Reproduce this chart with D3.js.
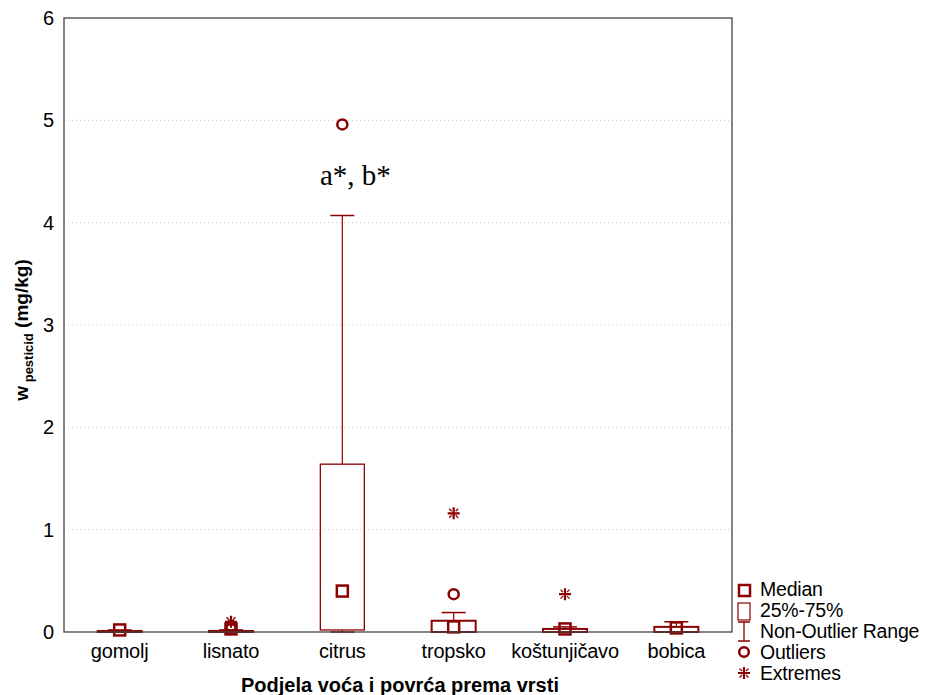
<!DOCTYPE html>
<html><head><meta charset="utf-8">
<script src="https://cdn.jsdelivr.net/npm/d3@7"></script>
<style>body{margin:0;background:#fff}svg{display:block}</style>
</head><body>
<script>
const categories = ["gomolj","lisnato","citrus","tropsko","koštunjičavo","bobica"];
const medians    = [0.02, 0.03, 0.40, 0.05, 0.03, 0.04];
const q1         = [0.00, 0.00, 0.02, 0.00, 0.00, 0.00];
const q3         = [0.01, 0.01, 1.64, 0.11, 0.03, 0.05];
const whiskMin   = [0.00, 0.00, 0.00, 0.00, 0.00, 0.00];
const whiskMax   = [0.02, 0.02, 4.07, 0.19, 0.05, 0.10];
const outliers   = [[], [0.03, 0.06], [4.96], [0.37], [], []];
const extremes   = [[], [0.10], [], [1.16], [0.37], []];
const yTicks     = [0,1,2,3,4,5,6];
const legendItems = ["Median","25%-75%","Non-Outlier Range","Outliers","Extremes"];

const W=926,H=695, col="#8b0000", SANS="'Liberation Sans',Arial,sans-serif";
const m={l:64,r:194,t:18,b:63};
const svg=d3.select("body").append("svg").attr("width",W).attr("height",H).style("font-family",SANS);
const x=d3.scaleBand().domain(categories).range([m.l,W-m.r]);
const y=d3.scaleLinear().domain([0,6]).range([H-m.b,m.t]);

// grid
svg.append("g").selectAll("line").data(yTicks.filter(d=>d>0&&d<6)).join("line")
 .attr("x1",m.l).attr("x2",W-m.r).attr("y1",d=>y(d)).attr("y2",d=>y(d))
 .attr("stroke","#c8c8c8").attr("stroke-dasharray","1,3");

// axes
const ya=svg.append("g").attr("transform",`translate(${m.l},0)`)
 .call(d3.axisLeft(y).tickValues(yTicks).tickFormat(d3.format("d")).tickSize(0).tickPadding(10));
ya.select(".domain").remove();
ya.selectAll("text").style("font-size","20px").style("font-family",SANS).attr("fill","#000");
const xa=svg.append("g").attr("transform",`translate(0,${H-m.b})`)
 .call(d3.axisBottom(x).tickSize(0).tickPadding(0));
xa.select(".domain").remove();
xa.selectAll("text").attr("dy",null).attr("y",26).style("font-size","20px").style("letter-spacing","-0.2px").style("font-family",SANS).attr("fill","#000");

// boxes
const bw=44, cw=24, ms=11;
const g=svg.append("g");
categories.forEach((c,i)=>{
  const cx=x(c)+x.bandwidth()/2;
  g.append("line").attr("x1",cx).attr("x2",cx).attr("y1",y(q3[i])).attr("y2",y(whiskMax[i])).attr("stroke",col).attr("stroke-width",1.2);
  g.append("line").attr("x1",cx-cw/2).attr("x2",cx+cw/2).attr("y1",y(whiskMax[i])).attr("y2",y(whiskMax[i])).attr("stroke",col).attr("stroke-width",1.5);
  g.append("line").attr("x1",cx).attr("x2",cx).attr("y1",y(q1[i])).attr("y2",y(whiskMin[i])).attr("stroke",col).attr("stroke-width",1.2);
  g.append("line").attr("x1",cx-cw/2).attr("x2",cx+cw/2).attr("y1",y(whiskMin[i])).attr("y2",y(whiskMin[i])).attr("stroke",col).attr("stroke-width",1.5);
  g.append("rect").attr("x",cx-bw/2).attr("width",bw).attr("y",y(q3[i])).attr("height",Math.max(1,y(q1[i])-y(q3[i])))
   .attr("fill","none").attr("stroke",col).attr("stroke-width",i==2?1.3:2);
  g.append("rect").attr("x",cx-ms/2).attr("y",y(medians[i])-ms/2).attr("width",ms).attr("height",ms)
   .attr("fill","none").attr("stroke",col).attr("stroke-width",2.5);
  outliers[i].forEach(v=>g.append("circle").attr("cx",cx).attr("cy",y(v)).attr("r",5).attr("fill","none").attr("stroke",col).attr("stroke-width",2.5));
  extremes[i].forEach(v=>drawStar(g,cx,y(v)));
});
function drawStar(sel,cx,cy){
  const s=6;
  sel.append("path").attr("d",`M${cx-s},${cy}H${cx+s}M${cx},${cy-s}V${cy+s}`).attr("stroke",col).attr("stroke-width",2.2).attr("fill","none");
  const d=4.5,e=2;
  sel.append("path").attr("d",`M${cx-d},${cy-d}L${cx-e},${cy-e}M${cx+d},${cy-d}L${cx+e},${cy-e}M${cx-d},${cy+d}L${cx-e},${cy+e}M${cx+d},${cy+d}L${cx+e},${cy+e}`).attr("stroke",col).attr("stroke-width",1.3).attr("fill","none");
}

// annotation
svg.append("text").attr("x",x("citrus")+x.bandwidth()/2+13).attr("y",y(4.96)+61).attr("text-anchor","middle")
 .style("font-family","'Liberation Serif','Times New Roman',serif").style("font-size","29px").text("a*, b*");

// frame
svg.append("rect").attr("x",m.l).attr("y",m.t).attr("width",W-m.r-m.l).attr("height",H-m.b-m.t)
 .attr("fill","none").attr("stroke","#444").attr("stroke-width",1.3);

// axis titles
svg.append("text").attr("x",(m.l+W-m.r)/2+2).attr("y",692).attr("text-anchor","middle")
 .style("font-weight","bold").style("font-size","20px").text("Podjela voća i povrća prema vrsti");
const yt=svg.append("text").attr("transform","translate(28,330) rotate(-90)").attr("text-anchor","middle").style("font-weight","bold").style("font-size","19px");
yt.append("tspan").text("w");
yt.append("tspan").style("font-size","13px").attr("dy",5).text(" pesticid");
yt.append("tspan").attr("dy",-5).text(" (mg/kg)");

// legend
const lx=744, ly=[590,611,631,652,673];
const lg=svg.append("g");
lg.append("rect").attr("x",lx-5).attr("y",ly[0]-5).attr("width",11).attr("height",11).attr("fill","none").attr("stroke",col).attr("stroke-width",2.5);
lg.append("rect").attr("x",lx-6).attr("y",ly[1]-8).attr("width",12).attr("height",17).attr("fill","none").attr("stroke",col).attr("stroke-width",1.2);
lg.append("path").attr("d",`M${lx-6},${ly[2]-9}H${lx+6}M${lx},${ly[2]-9}V${ly[2]+10}M${lx-6},${ly[2]+10}H${lx+6}`).attr("stroke",col).attr("stroke-width",1.3).attr("fill","none");
lg.append("circle").attr("cx",lx).attr("cy",ly[3]).attr("r",4.8).attr("fill","none").attr("stroke",col).attr("stroke-width",2.5);
drawStar(lg,lx,ly[4]);
lg.selectAll("text.l").data(legendItems).join("text").attr("class","l").attr("x",760).attr("y",(d,i)=>596+i*21)
 .style("font-size","19.5px").style("letter-spacing","-0.2px").text(d=>d);
</script>
</body></html>
